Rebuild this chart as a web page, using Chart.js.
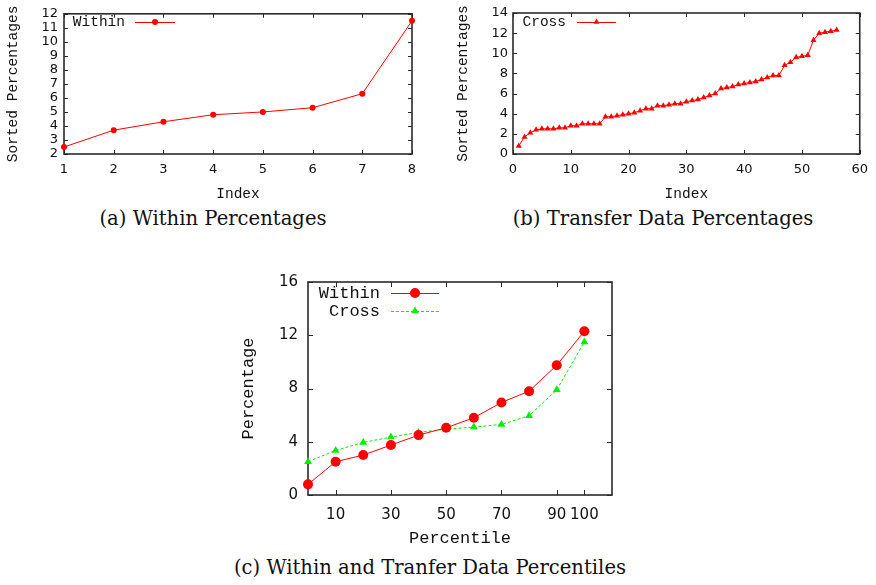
<!DOCTYPE html>
<html lang="en">
<head>
    <meta charset="UTF-8">
    <title>Within and Transfer Data Percentages</title>
    <script src="https://cdn.jsdelivr.net/npm/chart.js@4.4.0/dist/chart.umd.min.js"></script>
    <style>
        body {
            margin: 0;
            width: 876px;
            height: 585px;
            background: #fff;
            position: relative;
            overflow: hidden;
        }
        canvas { position: absolute; }
        .caption {
            position: absolute;
            font-family: 'DejaVu Serif', serif;
            font-size: 19.6px;
            line-height: 23px;
            color: #111;
            white-space: nowrap;
            transform: translateX(-50%);
        }
    </style>
</head>
<body>
    <canvas id="withinChart" width="430" height="205" style="left:0;top:0"></canvas>
    <canvas id="crossChart" width="426" height="205" style="left:450px;top:0"></canvas>
    <canvas id="pctChart" width="420" height="295" style="left:230px;top:260px"></canvas>

    <div class="caption" style="left:213px;top:207px">(a) Within Percentages</div>
    <div class="caption" style="left:663px;top:207px">(b) Transfer Data Percentages</div>
    <div class="caption" style="left:430px;top:556px">(c) Within and Tranfer Data Percentiles</div>

    <script>
        // (a) sorted within percentages
        const withinIndex = [1, 2, 3, 4, 5, 6, 7, 8];
        const withinSorted = [2.5, 3.7, 4.3, 4.8, 5.0, 5.3, 6.3, 11.5];

        // (b) sorted cross (transfer) percentages, index 1..56
        const crossSorted = [
            0.8, 1.7, 2.1, 2.4, 2.5, 2.5, 2.5, 2.6, 2.6, 2.8,
            2.8, 3.0, 3.0, 3.0, 3.0, 3.7, 3.7, 3.8, 3.9, 4.0,
            4.1, 4.3, 4.5, 4.5, 4.8, 4.8, 4.9, 5.0, 5.0, 5.2,
            5.3, 5.4, 5.6, 5.8, 6.0, 6.5, 6.6, 6.7, 6.9, 7.0,
            7.1, 7.2, 7.4, 7.6, 7.8, 7.8, 8.8, 9.1, 9.6, 9.7,
            9.8, 11.3, 12.0, 12.1, 12.2, 12.3
        ];

        // (c) percentiles
        const percentiles = [0, 10, 20, 30, 40, 50, 60, 70, 80, 90, 100];
        const withinPct = [0.8, 2.5, 3.0, 3.75, 4.5, 5.05, 5.8, 6.95, 7.8, 9.75, 12.3];
        const crossPct = [2.5, 3.35, 3.95, 4.35, 4.7, 4.95, 5.1, 5.3, 5.95, 7.9, 11.5];
        const pctTicks = [10, 30, 50, 70, 90, 100];

        const RED = '#ff0000';
        const GREEN = '#00f000';
        const FRAME = '#2a2a2a';

        // gnuplot-like box with inward ticks on all four sides (drawn under the data)
        const frameTicks = {
            id: 'frameTicks',
            beforeDatasetsDraw(chart, args, opts) {
                const { ctx, chartArea: a, scales } = chart;
                const len = opts.len || 4;
                ctx.save();
                ctx.strokeStyle = FRAME;
                ctx.lineWidth = 1;
                ctx.beginPath();
                scales.x.ticks.forEach(t => {
                    const px = Math.round(scales.x.getPixelForValue(t.value)) + 0.5;
                    ctx.moveTo(px, a.bottom); ctx.lineTo(px, a.bottom - len);
                    ctx.moveTo(px, a.top); ctx.lineTo(px, a.top + len);
                });
                scales.y.ticks.forEach(t => {
                    const py = Math.round(scales.y.getPixelForValue(t.value)) + 0.5;
                    ctx.moveTo(a.left, py); ctx.lineTo(a.left + len, py);
                    ctx.moveTo(a.right, py); ctx.lineTo(a.right - len, py);
                });
                ctx.stroke();
                ctx.lineWidth = 1.6;
                ctx.strokeRect(a.left, a.top, a.right - a.left, a.bottom - a.top);
                ctx.restore();
            }
        };

        // legend drawn gnuplot style: label, then line sample with marker
        const keyPlugin = {
            id: 'gnuKey',
            afterDatasetsDraw(chart, args, opts) {
                const ctx = chart.ctx;
                ctx.save();
                ctx.font = opts.font;
                ctx.textAlign = 'right';
                ctx.textBaseline = 'middle';
                chart.data.datasets.forEach((ds, i) => {
                    const y = opts.y + i * opts.rowH;
                    ctx.fillStyle = '#111';
                    ctx.fillText(ds.label, opts.textRight, y);
                    ctx.strokeStyle = ds.borderColor;
                    ctx.lineWidth = ds.borderWidth;
                    ctx.setLineDash(ds.borderDash || []);
                    ctx.beginPath();
                    ctx.moveTo(opts.x1, y + 0.5);
                    ctx.lineTo(opts.x2, y + 0.5);
                    ctx.stroke();
                    ctx.setLineDash([]);
                    ctx.fillStyle = ds.pointBackgroundColor;
                    Chart.helpers.drawPoint(ctx, {
                        pointStyle: ds.pointStyle,
                        radius: ds.pointRadius,
                        borderWidth: 0
                    }, (opts.x1 + opts.x2) / 2, y);
                });
                ctx.restore();
            }
        };

        function fixSize(size) {
            return function (scale) {
                if (scale.isHorizontal()) scale.height = size;
                else scale.width = size;
            };
        }

        function makeChart(id, datasets, cfg) {
            const tickFont = { family: 'DejaVu Sans', size: cfg.tickSize };
            const titleFont = { family: 'Liberation Mono', size: cfg.titleSize };
            return new Chart(document.getElementById(id), {
                type: 'line',
                data: { datasets: datasets },
                options: {
                    responsive: false,
                    animation: false,
                    events: [],
                    layout: { padding: { top: cfg.top, right: cfg.right, left: 0, bottom: 0 } },
                    scales: {
                        x: {
                            type: 'linear',
                            min: cfg.xMin, max: cfg.xMax,
                            afterFit: fixSize(cfg.xHeight),
                            afterBuildTicks: cfg.xTicks ? (s => { s.ticks = cfg.xTicks.map(v => ({ value: v })); }) : undefined,
                            ticks: { stepSize: cfg.xStep, font: tickFont, color: '#111', padding: cfg.xPad, maxRotation: 0, autoSkip: false },
                            grid: { display: false, drawTicks: false },
                            border: { display: false },
                            title: { display: true, text: cfg.xTitle, font: titleFont, color: '#111', padding: { top: 0, bottom: cfg.xTitlePad } }
                        },
                        y: {
                            min: cfg.yMin, max: cfg.yMax,
                            afterFit: fixSize(cfg.yWidth),
                            ticks: { stepSize: cfg.yStep, font: tickFont, color: '#111', padding: cfg.yPad, autoSkip: false },
                            grid: { display: false, drawTicks: false },
                            border: { display: false },
                            title: { display: true, text: cfg.yTitle, font: titleFont, color: '#111', padding: { top: cfg.yTitlePad, bottom: 0 } }
                        }
                    },
                    plugins: {
                        legend: { display: false },
                        tooltip: { enabled: false },
                        frameTicks: { len: cfg.tickLen },
                        gnuKey: cfg.key
                    }
                },
                plugins: [frameTicks, keyPlugin]
            });
        }

        function series(label, xs, ys, color, style, radius, dash) {
            return {
                label: label,
                data: ys.map((v, i) => ({ x: xs[i], y: v })),
                borderColor: color,
                backgroundColor: color,
                pointBackgroundColor: color,
                pointBorderColor: color,
                pointBorderWidth: 0,
                borderWidth: 1,
                borderDash: dash,
                pointStyle: style,
                pointRadius: radius,
                tension: 0,
                clip: false
            };
        }

        // (a)
        makeChart('withinChart', [
            series('Within', withinIndex, withinSorted, RED, 'circle', 3)
        ], {
            top: 13, right: 18, xHeight: 51, yWidth: 64,
            xMin: 1, xMax: 8, xStep: 1, yMin: 2, yMax: 12, yStep: 1,
            tickSize: 13, titleSize: 14.5, xPad: 8, yPad: 6, xTitlePad: 2, yTitlePad: 4,
            xTitle: 'Index', yTitle: 'Sorted Percentages', tickLen: 4,
            key: { font: '14.5px "Liberation Mono"', textRight: 125, x1: 135, x2: 175, y: 22, rowH: 18 }
        });

        // (b)
        const crossIndex = crossSorted.map((v, i) => i + 1);
        makeChart('crossChart', [
            series('Cross', crossIndex, crossSorted, RED, 'triangle', 3.5)
        ], {
            top: 13, right: 14, xHeight: 51, yWidth: 63,
            xMin: 0, xMax: 60, xStep: 10, yMin: 0, yMax: 14, yStep: 2,
            tickSize: 13, titleSize: 14.5, xPad: 8, yPad: 5, xTitlePad: 2, yTitlePad: 4,
            xTitle: 'Index', yTitle: 'Sorted Percentages', tickLen: 4,
            key: { font: '14.5px "Liberation Mono"', textRight: 116, x1: 127, x2: 166, y: 22, rowH: 18 }
        });

        // (c)
        makeChart('pctChart', [
            series('Within', percentiles, withinPct, RED, 'circle', 5),
            series('Cross', percentiles, crossPct, GREEN, 'triangle', 4.5, [3, 2])
        ], {
            top: 22, right: 38, xHeight: 60, yWidth: 78,
            xMin: 0, xMax: 110, xTicks: pctTicks, yMin: 0, yMax: 16, yStep: 4,
            tickSize: 15, titleSize: 17, xPad: 11, yPad: 10, xTitlePad: 6, yTitlePad: 8,
            xTitle: 'Percentile', yTitle: 'Percentage', tickLen: 5,
            key: { font: '17px "Liberation Mono"', textRight: 150, x1: 161, x2: 209, y: 33, rowH: 18 }
        });
    </script>
</body>
</html>
